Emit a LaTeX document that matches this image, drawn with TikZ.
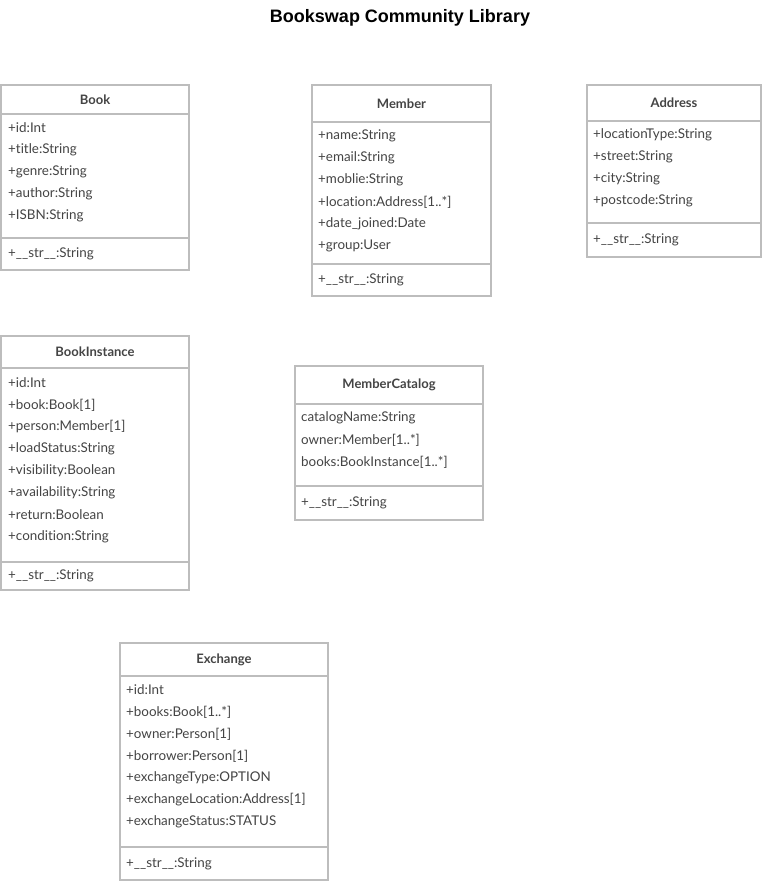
\documentclass[tikz,border=0pt]{standalone}
\usepackage{fontspec}
\setmainfont{Lato}[Ligatures=NoCommon]
\newfontfamily\titlefont{Liberation Sans}
\usepackage{tikz}
\usetikzlibrary{positioning}
\usepackage{xcolor}
\definecolor{boxgray}{HTML}{BDBDBD}
\definecolor{textgray}{HTML}{444444}

\tikzset{
  box/.style={draw=boxgray, line width=1.6pt, fill=white, inner sep=0pt, outer sep=0pt},
  head/.style={box, font=\fontsize{13}{15}\selectfont\bfseries, text=textgray},
  attr/.style={anchor=west, inner sep=0pt, font=\fontsize{13.4}{15}\selectfont, text=textgray},
}

\begin{document}
\begin{tikzpicture}[x=1pt, y=-1pt]
  \useasboundingbox (0,0) rectangle (763,881);

  % タイトル
  \node[font=\titlefont\fontsize{18}{21}\selectfont\bfseries] (title) at (400,17.5) {Bookswap Community Library};

  % Book
  \node[head, minimum width=188, minimum height=29] (book) at (95,99.5) {Book};
  \node[box, minimum width=188, minimum height=124, below=0pt of book] (bookattr) {};
  \node[box, minimum width=188, minimum height=32, below=0pt of bookattr] (bookmeth) {};
  \foreach \t [count=\i] in {+id:Int, +title:String, +genre:String, +author:String, +ISBN:String} {
    \node[attr] (bookrow\i) at ([xshift=7, yshift=-14-22*(\i-1)]bookattr.north west) {\t};
  }
  \node[attr] (bookstr) at ([xshift=7]bookmeth.west) {+\_\_str\_\_:String};

  % Member
  \node[head, minimum width=179, minimum height=37] (member) at (401.5,103.5) {Member};
  \node[box, minimum width=179, minimum height=142, below=0pt of member] (memberattr) {};
  \node[box, minimum width=179, minimum height=32, below=0pt of memberattr] (membermeth) {};
  \foreach \t [count=\i] in {+name:String, +email:String, +moblie:String, +location:Address[1..*], +date\_joined:Date, +group:User} {
    \node[attr] (memberrow\i) at ([xshift=6, yshift=-14-22*(\i-1)]memberattr.north west) {\t};
  }
  \node[attr] (memberstr) at ([xshift=6]membermeth.west) {+\_\_str\_\_:String};

  % Address
  \node[head, minimum width=174, minimum height=36] (address) at (674,103) {Address};
  \node[box, minimum width=174, minimum height=102, below=0pt of address] (addressattr) {};
  \node[box, minimum width=174, minimum height=34, below=0pt of addressattr] (addressmeth) {};
  \foreach \t [count=\i] in {+locationType:String, +street:String, +city:String, +postcode:String} {
    \node[attr] (addressrow\i) at ([xshift=6, yshift=-14-22*(\i-1)]addressattr.north west) {\t};
  }
  \node[attr] (addressstr) at ([xshift=6]addressmeth.west) {+\_\_str\_\_:String};

  % BookInstance
  \node[head, minimum width=188, minimum height=32] (bookinst) at (95,352) {BookInstance};
  \node[box, minimum width=188, minimum height=194, below=0pt of bookinst] (bookinstattr) {};
  \node[box, minimum width=188, minimum height=28, below=0pt of bookinstattr] (bookinstmeth) {};
  \foreach \t [count=\i] in {+id:Int, +book:Book[1], +person:Member[1], +loadStatus:String, +visibility:Boolean, +availability:String, +return:Boolean, +condition:String} {
    \node[attr] (bookinstrow\i) at ([xshift=7, yshift=-15-22*(\i-1)]bookinstattr.north west) {\t};
  }
  \node[attr] (bookinststr) at ([xshift=7]bookinstmeth.west) {+\_\_str\_\_:String};

  % MemberCatalog
  \node[head, minimum width=188, minimum height=38] (catalog) at (389,385) {MemberCatalog};
  \node[box, minimum width=188, minimum height=82, below=0pt of catalog] (catalogattr) {};
  \node[box, minimum width=188, minimum height=34, below=0pt of catalogattr] (catalogmeth) {};
  \foreach \t [count=\i] in {catalogName:String, owner:Member[1..*], books:BookInstance[1..*]} {
    \node[attr] (catalogrow\i) at ([xshift=6, yshift=-14-22*(\i-1)]catalogattr.north west) {\t};
  }
  \node[attr] (catalogstr) at ([xshift=6]catalogmeth.west) {+\_\_str\_\_:String};

  % Exchange
  \node[head, minimum width=208, minimum height=33] (exchange) at (224,659.5) {Exchange};
  \node[box, minimum width=208, minimum height=171, below=0pt of exchange] (exchangeattr) {};
  \node[box, minimum width=208, minimum height=33, below=0pt of exchangeattr] (exchangemeth) {};
  \foreach \t [count=\i] in {+id:Int, +books:Book[1..*], +owner:Person[1], +borrower:Person[1], +exchangeType:OPTION, +exchangeLocation:Address[1], +exchangeStatus:STATUS} {
    \node[attr] (exchangerow\i) at ([xshift=6, yshift=-14-22*(\i-1)]exchangeattr.north west) {\t};
  }
  \node[attr] (exchangestr) at ([xshift=6]exchangemeth.west) {+\_\_str\_\_:String};
\end{tikzpicture}
\end{document}
